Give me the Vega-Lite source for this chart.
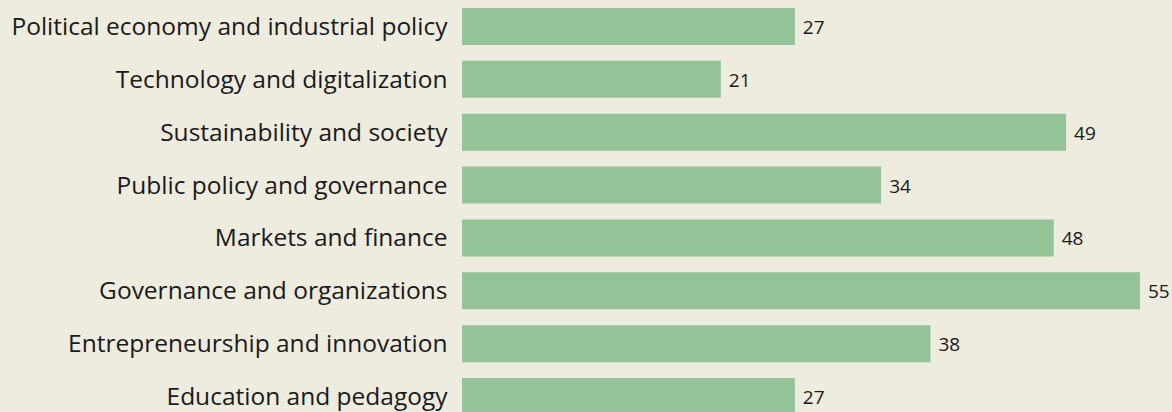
{
  "$schema": "https://vega.github.io/schema/vega-lite/v6.json",
  "autosize": {"type": "none"},
  "padding": {"left": 462, "top": 0, "right": 32, "bottom": 0},
  "width": 678,
  "height": 423,
  "background": "#eeebdf",
  "config": {"view": {"stroke": null}, "font": "Open Sans"},
  "data": {"values": [
    {"topic": "Political economy and industrial policy", "count": 27},
    {"topic": "Technology and digitalization", "count": 21},
    {"topic": "Sustainability and society", "count": 49},
    {"topic": "Public policy and governance", "count": 34},
    {"topic": "Markets and finance", "count": 48},
    {"topic": "Governance and organizations", "count": 55},
    {"topic": "Entrepreneurship and innovation", "count": 38},
    {"topic": "Education and pedagogy", "count": 27}
  ]},
  "encoding": {
    "y": {"field": "topic", "type": "nominal", "sort": null,
      "scale": {"paddingInner": 0.3, "paddingOuter": 0.15},
      "axis": {"title": null, "domain": false, "ticks": false, "labelPadding": 15, "labelOffset": 1.5, "labelFontSize": 24.5, "labelColor": "#1a1a1a", "labelLimit": 0, "labelFont": "Open Sans"}},
    "x": {"field": "count", "type": "quantitative", "scale": {"domain": [0, 55]}, "axis": null}
  },
  "layer": [
    {"mark": {"type": "bar", "color": "#93c396"}},
    {"mark": {"type": "text", "align": "left", "baseline": "middle", "dx": 8, "dy": 1.5, "fontSize": 19, "color": "#1a1a1a"},
     "encoding": {"text": {"field": "count", "type": "quantitative"}}}
  ]
}
